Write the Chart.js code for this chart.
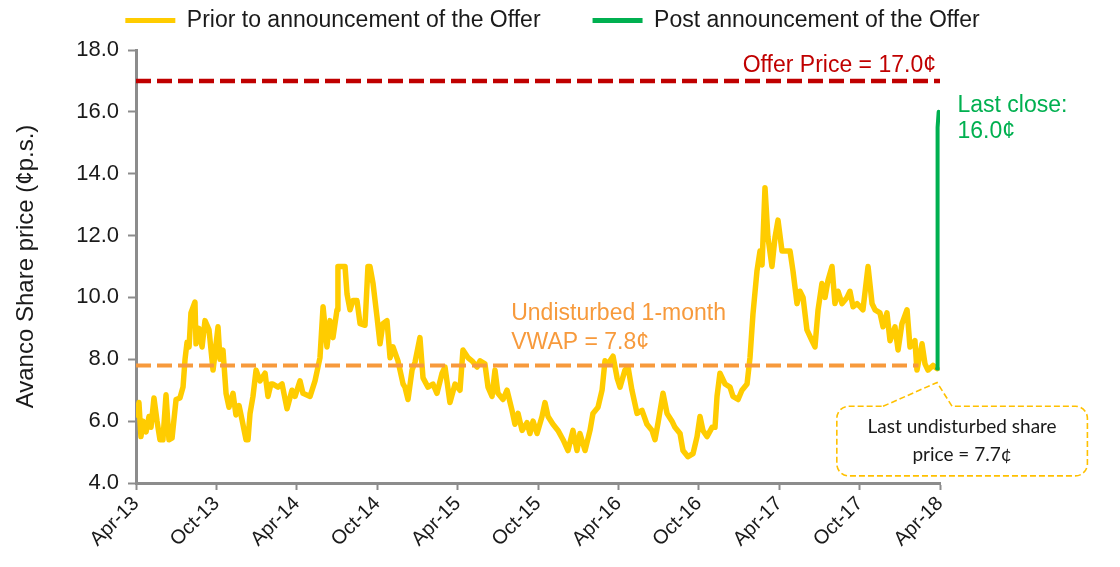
<!DOCTYPE html>
<html>
<head>
<meta charset="utf-8">
<script src="https://cdn.jsdelivr.net/npm/chart.js@4.4.1/dist/chart.umd.min.js"></script>
<style>
  html, body { margin: 0; padding: 0; background: #fff; }
</style>
</head>
<body>
<canvas id="price-chart" width="1120" height="567"></canvas>
<script>
// x = months since Apr-13
const tickLabels = ['Apr-13', 'Oct-13', 'Apr-14', 'Oct-14', 'Apr-15', 'Oct-15', 'Apr-16', 'Oct-16', 'Apr-17', 'Oct-17', 'Apr-18'];

const priorMonths = [
  0.07, 0.22, 0.37, 0.52, 0.75, 0.97, 1.12, 1.34, 1.57, 1.79, 2.01, 2.24, 2.46, 2.69, 2.99, 3.28, 3.51, 3.66, 3.81, 3.96,
  4.10, 4.40, 4.48, 4.70, 4.93, 5.15, 5.45, 5.75, 5.90, 6.12, 6.27, 6.49, 6.72, 6.94, 7.24, 7.46, 7.69, 7.91, 8.21, 8.36,
  8.51, 8.73, 8.96, 9.25, 9.63, 9.85,
  10.07, 10.22, 10.60, 10.90, 11.27, 11.64, 11.87, 12.24, 12.46, 12.99, 13.36, 13.73, 13.96, 14.25, 14.48, 14.70, 15.00, 15.07, 15.37, 15.60,
  15.75, 15.97, 16.19, 16.49, 16.72, 17.09, 17.31, 17.46, 17.69, 17.99, 18.21, 18.43, 18.73, 18.96, 19.18, 19.55, 19.93,
  20.07, 20.30, 20.60, 20.82, 21.19, 21.42, 21.79, 22.16, 22.46, 22.84, 23.06, 23.43, 23.81, 24.18, 24.40, 24.78, 25.07, 25.45, 25.67, 26.04,
  26.27, 26.57, 26.79, 27.01, 27.39, 27.69, 28.06, 28.28, 28.51, 28.81, 29.18, 29.40, 29.63, 29.93,
  30.30, 30.52, 30.75, 31.12, 31.49, 31.87, 32.24, 32.61, 32.91, 33.13, 33.51, 33.88, 34.10, 34.48, 34.78, 35.00, 35.22, 35.60, 35.90, 36.12,
  36.49, 36.72, 37.01, 37.39, 37.76, 38.13, 38.51, 38.73, 38.96, 39.33, 39.63, 40.00,
  40.22, 40.60, 40.82, 41.19, 41.57, 41.87, 42.09, 42.31, 42.61, 42.99, 43.21, 43.36, 43.58, 43.96, 44.33, 44.55, 44.93, 45.22, 45.60, 45.82,
  46.04, 46.34, 46.57, 46.72, 46.94, 47.16, 47.46, 47.69, 47.91, 48.21, 48.58, 48.81, 49.03, 49.33, 49.55, 49.78, 50.07, 50.45, 50.67, 50.90,
  51.19, 51.42, 51.64, 51.94, 52.16, 52.39, 52.69, 53.06, 53.28, 53.51, 53.81, 54.03, 54.25, 54.63, 54.93, 55.15, 55.52, 55.75, 56.04, 56.27,
  56.64, 56.87, 57.16, 57.54, 57.76, 58.13, 58.28, 58.66, 58.88, 59.10, 59.48, 59.78
];

const priorPrices = [
  6.2, 6.6, 5.5, 6.0, 5.65, 6.15, 5.8, 6.75, 6.0, 5.4, 5.4, 6.85, 5.4, 5.45, 6.7, 6.75, 7.1, 8.0, 8.55, 8.4,
  9.5, 9.85, 8.5, 9.0, 8.4, 9.25, 8.95, 7.65, 8.2, 9.05, 8.0, 8.3, 6.9, 6.45, 6.9, 6.2, 6.5, 6.05, 5.4, 5.4,
  6.25, 6.8, 7.65, 7.3, 7.55, 6.8,
  7.2, 7.2, 7.1, 7.2, 6.4, 7.0, 6.8, 7.3, 6.9, 6.8, 7.3, 8.05, 9.7, 8.4, 9.25, 8.7, 9.6, 11.0, 11.0, 11.0,
  10.1, 9.6, 9.9, 9.9, 9.15, 9.1, 11.0, 11.0, 10.45, 9.35, 8.5, 9.15, 9.25, 8.05, 8.4, 7.95, 7.2,
  7.1, 6.7, 7.65, 7.9, 8.7, 7.4, 7.1, 7.2, 6.9, 7.55, 7.75, 6.6, 7.2, 7.0, 8.3, 8.05, 7.95, 7.75, 7.95, 7.85,
  7.1, 6.8, 7.65, 6.9, 6.7, 7.0, 6.35, 5.9, 6.25, 5.7, 5.95, 5.6, 6.0, 5.6,
  6.15, 6.6, 6.15, 5.9, 5.7, 5.4, 5.05, 5.7, 5.05, 5.6, 5.05, 5.7, 6.25, 6.45, 7.0, 7.95, 7.85, 8.1, 7.4, 7.1,
  7.65, 7.75, 7.0, 6.25, 6.35, 5.9, 5.7, 5.4, 5.95, 6.9, 6.25, 6.0,
  5.8, 5.6, 5.05, 4.85, 4.95, 5.5, 6.15, 5.7, 5.5, 5.8, 5.8, 6.8, 7.55, 7.2, 7.1, 6.8, 6.7, 7.0, 7.2, 8.05,
  9.45, 10.85, 11.5, 11.05, 13.55, 11.95, 11.0, 11.95, 12.5, 11.5, 11.5, 11.5, 10.85, 9.8, 10.2, 10.0, 8.95, 8.6, 8.4, 9.6,
  10.45, 10.0, 10.55, 11.0, 9.8, 10.2, 9.8, 10.0, 10.2, 9.7, 9.8, 9.7, 9.6, 11.0, 9.8, 9.6, 9.5, 9.05, 9.5, 8.6,
  9.05, 8.3, 9.15, 9.6, 8.4, 8.6, 7.65, 8.5, 7.85, 7.65, 7.8, 7.7
];

const postMonths = [59.78, 59.82, 59.9];
const postPrices = [7.7, 15.5, 16.0];

const offerPrice = 17.0;
const vwapPrice = 7.8;
const lastUndisturbed = 7.7;
const lastClose = 16.0;

const seriesNames = ['Prior to announcement of the Offer', 'Post announcement of the Offer'];

const FONT = '"Liberation Sans", Arial, sans-serif';
const TEXT = '#1a1a1a';
const AXIS = '#8c8c8c';

function zip(xs, ys) {
  return xs.map((x, i) => ({ x, y: ys[i] }));
}

// extra room under the legend
const legendGap = {
  id: 'legendGap',
  beforeInit(chart) {
    const fit = chart.legend.fit;
    chart.legend.fit = function () {
      fit.call(this);
      this.height += 8;
    };
  }
};

// annotations drawn in data units so they follow the scales
const notesPlugin = {
  id: 'notes',
  afterDatasetsDraw(chart) {
    const { ctx, scales: { x, y } } = chart;
    ctx.save();
    ctx.textBaseline = 'middle';
    ctx.font = '23px ' + FONT;

    ctx.fillStyle = '#C00000';
    ctx.textAlign = 'right';
    ctx.fillText('Offer Price = ' + offerPrice.toFixed(1) + '¢', x.getPixelForValue(59.7), y.getPixelForValue(17.5));

    ctx.fillStyle = '#F79A3C';
    ctx.textAlign = 'left';
    ctx.fillText('Undisturbed 1-month', x.getPixelForValue(28.0), y.getPixelForValue(9.48));
    ctx.fillText('VWAP = ' + vwapPrice.toFixed(1) + '¢', x.getPixelForValue(28.0), y.getPixelForValue(8.55));

    ctx.fillStyle = '#00B050';
    ctx.fillText('Last close:', x.getPixelForValue(61.3), y.getPixelForValue(16.2));
    ctx.fillText(lastClose.toFixed(1) + '¢', x.getPixelForValue(61.3), y.getPixelForValue(15.35));

    // callout box with pointer to the last undisturbed price
    const L = x.getPixelForValue(52.3), R = x.getPixelForValue(71.0);
    const T = y.getPixelForValue(6.48), B = y.getPixelForValue(4.23);
    const pL = x.getPixelForValue(55.75), pR = x.getPixelForValue(60.9);
    const tipX = x.getPixelForValue(59.78), tipY = y.getPixelForValue(7.25);
    const r = 12;
    ctx.beginPath();
    ctx.moveTo(pL, T);
    ctx.lineTo(tipX, tipY);
    ctx.lineTo(pR, T);
    ctx.arcTo(R, T, R, B, r);
    ctx.arcTo(R, B, L, B, r);
    ctx.arcTo(L, B, L, T, r);
    ctx.arcTo(L, T, pL, T, r);
    ctx.closePath();
    ctx.setLineDash([6, 3]);
    ctx.lineWidth = 1.6;
    ctx.strokeStyle = '#FFC000';
    ctx.stroke();

    ctx.setLineDash([]);
    ctx.fillStyle = TEXT;
    ctx.textAlign = 'center';
    ctx.font = '19px Lato, "Open Sans", sans-serif';
    const cx = (L + R) / 2;
    ctx.fillText('Last undisturbed share', cx, y.getPixelForValue(5.8));
    ctx.fillText('price = ' + lastUndisturbed.toFixed(1) + '¢', cx, y.getPixelForValue(4.9));
    ctx.restore();
  }
};

const ctx = document.getElementById('price-chart').getContext('2d');
new Chart(ctx, {
  type: 'line',
  data: {
    datasets: [
      {
        label: seriesNames[0],
        data: zip(priorMonths, priorPrices),
        borderColor: '#FFCC00',
        backgroundColor: '#FFCC00',
        borderWidth: 5.5,
        borderJoinStyle: 'round',
        borderCapStyle: 'round',
        pointRadius: 0,
        tension: 0,
        order: 2
      },
      {
        label: seriesNames[1],
        data: zip(postMonths, postPrices),
        borderColor: '#00B050',
        backgroundColor: '#00B050',
        borderWidth: 4,
        borderCapStyle: 'round',
        pointRadius: 0,
        tension: 0,
        order: 1
      },
      {
        label: 'Offer Price',
        data: [{ x: 0, y: offerPrice }, { x: 60, y: offerPrice }],
        borderColor: '#C00000',
        borderWidth: 4.5,
        borderDash: [15, 6],
        pointRadius: 0,
        order: 0
      },
      {
        label: 'VWAP',
        data: [{ x: 0, y: vwapPrice }, { x: 58.4, y: vwapPrice }],
        borderColor: '#F79A3C',
        borderWidth: 4,
        borderDash: [15, 6],
        pointRadius: 0,
        order: 0
      }
    ]
  },
  options: {
    responsive: false,
    animation: false,
    devicePixelRatio: 1,
    layout: { padding: { left: 8, right: 0, top: 3, bottom: 0 } },
    plugins: {
      tooltip: { enabled: false },
      legend: {
        position: 'top',
        labels: {
          font: { family: FONT, size: 23 },
          color: TEXT,
          boxWidth: 50,
          boxHeight: 5,
          padding: 6,
          generateLabels: (chart) => chart.data.datasets.slice(0, 2).map((ds, i) => ({
            text: ds.label + (i === 0 ? '\u2003\u2003' : '\u2003'),
            fillStyle: ds.borderColor,
            strokeStyle: ds.borderColor,
            lineWidth: 0,
            fontColor: TEXT,
            datasetIndex: i,
            hidden: false
          }))
        }
      }
    },
    scales: {
      x: {
        type: 'linear',
        min: 0,
        max: 60,
        afterFit: (s) => { s.height = 84; },
        ticks: {
          stepSize: 6,
          autoSkip: false,
          maxRotation: 45,
          minRotation: 45,
          padding: 2,
          color: TEXT,
          font: { family: FONT, size: 20 },
          callback: (v) => tickLabels[Math.round(v / 6)]
        },
        grid: { drawOnChartArea: false, tickLength: 7, tickColor: AXIS, tickWidth: 2 },
        border: { color: AXIS, width: 3 }
      },
      y: {
        min: 4,
        max: 18,
        afterFit: (s) => { s.width = 128; },
        ticks: {
          stepSize: 2,
          padding: 9,
          color: TEXT,
          font: { family: FONT, size: 22 },
          callback: (v) => v.toFixed(1)
        },
        title: {
          display: true,
          text: 'Avanco Share price (¢p.s.)',
          color: TEXT,
          font: { family: FONT, size: 24 }
        },
        grid: { drawOnChartArea: false, tickLength: 8, tickColor: AXIS, tickWidth: 2 },
        border: { color: AXIS, width: 3 }
      },
      // blank strip on the right for the notes and callout
      side: {
        position: 'right',
        afterFit: (s) => { s.width = 180; },
        ticks: { display: false },
        grid: { display: false },
        border: { display: false }
      }
    }
  },
  plugins: [legendGap, notesPlugin]
});
</script>
</body>
</html>
